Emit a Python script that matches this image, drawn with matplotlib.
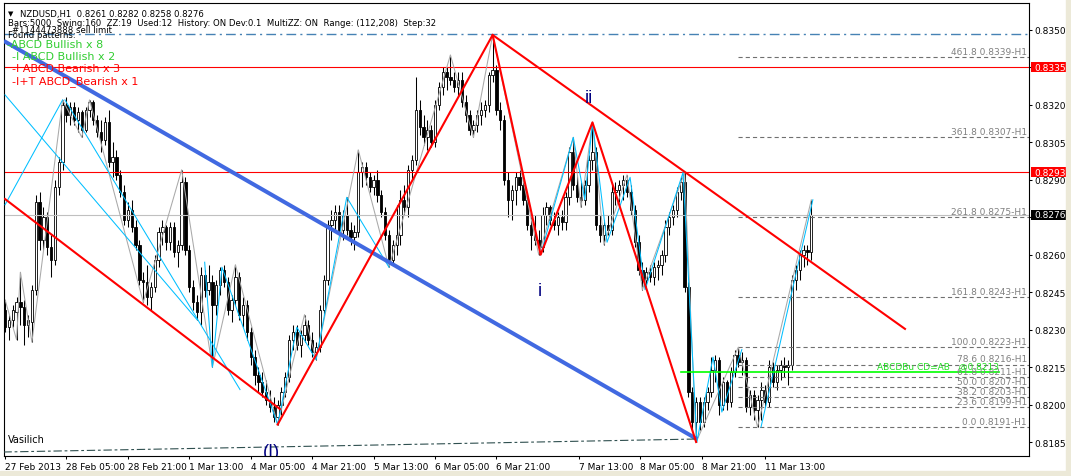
import matplotlib
matplotlib.use("Agg")
import matplotlib.pyplot as plt
import matplotlib.transforms as mtrans
from matplotlib.patches import Rectangle
import numpy as np

plt.rcParams['lines.scale_dashes'] = False
plt.rcParams['font.family'] = ['DejaVu Sans']

# ---------------- data (prices in pips, 8261 -> 0.8261) ----------------
symbol = "NZDUSD,H1"
opens = [8238,8231,8234,8237,8241,8239,8232,8233,8246,8281,
         8266,8275,8263,8258,8287,8297,8320,8316,8319,8314,
         8317,8310,8318,8321,8314,8309,8306,8313,8297,8299,
         8292,8285,8274,8278,8271,8264,8250,8249,8243,8247,
         8258,8269,8271,8265,8271,8261,8264,8289,8262,8247,
         8241,8237,8252,8246,8249,8240,8248,8254,8249,8238,
         8242,8251,8236,8240,8229,8219,8212,8209,8205,8202,
         8199,8195,8200,8205,8211,8226,8229,8224,8228,8232,
         8226,8221,8223,8238,8250,8272,8274,8277,8270,8276,
         8270,8267,8269,8293,8295,8291,8287,8290,8284,8277,
         8268,8258,8264,8268,8282,8279,8294,8298,8318,8311,
         8307,8310,8305,8320,8327,8333,8331,8330,8327,8330,
         8321,8316,8310,8312,8316,8318,8320,8332,8334,8318,
         8314,8290,8282,8286,8291,8288,8282,8272,8268,8266,
         8263,8276,8279,8274,8272,8275,8273,8283,8301,8288,
         8283,8282,8288,8298,8301,8272,8268,8272,8270,8285,
         8286,8288,8290,8285,8278,8265,8254,8250,8253,8251,
         8255,8256,8260,8271,8275,8278,8285,8289,8247,8205,
         8193,8201,8193,8201,8205,8214,8218,8200,8209,8201,
         8213,8220,8217,8218,8199,8204,8198,8202,8206,8201,
         8215,8209,8214,8216,8215,8216,8250,8254,8260,8262,8261]
highs = [8242,8236,8240,8243,8253,8242,8236,8248,8284,8285,
         8279,8277,8268,8290,8299,8322,8323,8321,8321,8319,
         8318,8319,8322,8322,8316,8314,8315,8318,8305,8302,
         8294,8288,8281,8282,8274,8266,8253,8256,8249,8260,
         8271,8274,8272,8273,8273,8266,8294,8291,8264,8250,
         8244,8255,8254,8256,8252,8250,8255,8256,8251,8244,
         8256,8253,8243,8242,8231,8222,8215,8213,8210,8206,
         8203,8202,8207,8213,8228,8232,8232,8230,8236,8234,
         8229,8225,8240,8252,8274,8278,8280,8280,8278,8283,
         8273,8272,8302,8297,8297,8293,8292,8294,8286,8279,
         8270,8266,8280,8286,8288,8296,8300,8331,8322,8316,
         8314,8312,8322,8329,8335,8335,8340,8333,8333,8333,
         8324,8318,8314,8318,8321,8322,8333,8348,8336,8321,
         8316,8293,8288,8293,8294,8290,8284,8275,8276,8270,
         8279,8281,8280,8277,8277,8278,8285,8303,8307,8292,
         8289,8290,8300,8313,8303,8276,8274,8276,8288,8289,
         8290,8292,8292,8288,8280,8268,8257,8255,8256,8257,
         8258,8262,8274,8277,8280,8287,8291,8293,8249,8207,
         8203,8203,8203,8207,8219,8220,8219,8211,8210,8215,
         8222,8223,8221,8219,8206,8206,8204,8209,8208,8218,
         8217,8216,8218,8219,8218,8252,8256,8262,8264,8264,8282]
lows = [8229,8226,8231,8226,8232,8224,8227,8225,8244,8262,
        8262,8260,8251,8256,8284,8294,8313,8312,8312,8309,
        8307,8309,8315,8312,8307,8301,8304,8295,8291,8290,
        8283,8272,8271,8269,8262,8248,8241,8240,8238,8245,
        8255,8264,8262,8262,8259,8255,8262,8260,8245,8238,
        8234,8232,8243,8244,8215,8236,8244,8247,8236,8233,
        8240,8234,8231,8226,8216,8208,8205,8203,8200,8197,
        8193,8192,8196,8203,8209,8222,8222,8219,8225,8224,
        8219,8218,8221,8236,8248,8266,8270,8268,8266,8268,
        8264,8262,8267,8287,8288,8285,8284,8281,8275,8266,
        8255,8256,8260,8264,8276,8275,8290,8296,8308,8304,
        8302,8303,8303,8318,8324,8326,8328,8325,8323,8319,
        8313,8308,8307,8309,8312,8315,8317,8329,8316,8310,
        8288,8275,8274,8280,8286,8280,8270,8262,8264,8260,
        8261,8272,8272,8270,8268,8270,8270,8280,8286,8281,
        8279,8280,8285,8294,8270,8265,8264,8268,8268,8280,
        8281,8282,8283,8276,8263,8252,8246,8247,8249,8248,
        8250,8252,8257,8268,8272,8275,8282,8245,8203,8190,
        8185,8190,8191,8198,8203,8209,8196,8198,8198,8199,
        8211,8215,8212,8197,8196,8194,8191,8194,8199,8199,
        8207,8206,8210,8211,8208,8214,8246,8250,8255,8256,8258]
closes = [8231,8234,8238,8241,8239,8232,8234,8246,8281,8266,
          8275,8263,8258,8287,8297,8320,8316,8319,8314,8317,
          8310,8318,8321,8314,8309,8306,8313,8297,8299,8292,
          8285,8274,8278,8271,8264,8250,8249,8243,8247,8258,
          8269,8271,8265,8271,8261,8264,8289,8262,8247,8241,
          8237,8252,8246,8249,8240,8248,8254,8249,8238,8242,
          8251,8236,8240,8229,8219,8212,8209,8205,8202,8199,
          8195,8200,8205,8211,8226,8229,8224,8228,8232,8226,
          8221,8223,8238,8250,8272,8274,8277,8270,8276,8270,
          8267,8269,8293,8295,8291,8287,8290,8284,8277,8268,
          8258,8264,8268,8282,8279,8294,8298,8318,8311,8307,
          8310,8305,8320,8327,8333,8331,8330,8327,8330,8321,
          8316,8310,8312,8316,8318,8320,8332,8334,8318,8314,
          8290,8282,8286,8291,8288,8282,8272,8268,8266,8263,
          8276,8279,8274,8272,8275,8273,8283,8301,8288,8283,
          8282,8288,8298,8301,8272,8268,8272,8270,8285,8286,
          8288,8290,8285,8278,8265,8254,8250,8253,8251,8255,
          8256,8260,8271,8275,8278,8285,8289,8247,8205,8193,
          8201,8193,8201,8205,8214,8218,8200,8209,8201,8213,
          8220,8217,8218,8199,8204,8198,8202,8206,8201,8215,
          8209,8214,8216,8215,8216,8250,8254,8260,8262,8261,8276]

time_tick_bars = [0, 16, 32, 48, 64, 80, 96, 112, 128, 149.5, 165.5, 181.5, 198]
time_tick_labels = ["27 Feb 2013", "28 Feb 05:00", "28 Feb 21:00", "1 Mar 13:00",
                    "4 Mar 05:00", "4 Mar 21:00", "5 Mar 13:00", "6 Mar 05:00",
                    "6 Mar 21:00", "7 Mar 13:00", "8 Mar 05:00", "8 Mar 21:00",
                    "11 Mar 13:00"]
price_ticks = [0.8185, 0.8200, 0.8215, 0.8230, 0.8245, 0.8260, 0.8275,
               0.8290, 0.8305, 0.8320, 0.8335, 0.8350]

fib_pcts = ["461.8", "361.8", "261.8", "161.8", "100.0", "78.6", "61.8",
            "50.0", "38.2", "23.6", "0.0"]
fib_prices = [0.8339, 0.8307, 0.8275, 0.8243, 0.8223, 0.8216, 0.8211,
              0.8207, 0.8203, 0.8199, 0.8191]
fib_start_bar = 191

red_levels = [0.8335, 0.8293]
bid_price = 0.8276
sell_limit_price = 0.83482
abcd_target = 0.8213
abcd_bars = [176, 259]

zz_bars = [0,3,4,7,15,20,22,36,46,54,60,71,78,81,92,100,116,122,127,139,148,150,153,156,162,166,177,180,191,196,210]
zz_pips = [8242,8226,8253,8225,8322,8307,8322,8241,8294,8215,8256,8192,8236,8218,8302,8255,8340,8307,8348,8260,8307,8279,8313,8264,8292,8246,8293,8185,8223,8191,8282]

cyan_lines = [
    ([0, 15], [8280, 8322]),
    ([0, 50], [8324, 8234]),
    ([15.6, 61.2], [8322, 8206]),
    ([52, 54, 56.5, 71, 76, 81, 89, 100], [8257, 8215, 8255, 8192, 8231, 8218, 8283, 8255]),
    ([139.5, 148, 151, 153, 156.8, 162.8, 166.7, 176.6, 180.2, 184.4, 186.7, 191.9],
     [8260, 8307, 8282, 8313, 8265, 8291, 8246, 8293, 8185, 8219, 8197, 8222]),
    ([196.9, 210.4], [8191, 8282]),
]
red_abcd_bars = [71, 127, 139.5, 153, 180]
red_abcd_pips = [8192, 8348, 8260, 8313, 8185]
red_channel_bars = [0, 71.6]
red_channel_pips = [8282.3, 8198.2]
red_trend_bars = [127, 234.4]
red_trend_pips = [8348, 8230.3]
blue_bars = [-0.3, 180.2]
blue_pips = [8345.6, 8186.2]
slate_bars = [-0.4, 180.2]
slate_pips = [8181.0, 8186.2]

legend_lines = [("-ABCD Bullish x 8", "#32CD32", 7, 48.5),
                ("-I ABCD Bullish x 2", "#32CD32", 12, 60.5),
                ("-I ABCD Bearish x 3", "#FF0000", 12, 72.5),
                ("-I+T ABCD_Bearish x 1", "#FF0000", 12, 84.5)]

# ---------------- figure ----------------
W, H, DPI = 1071, 477, 100
fig = plt.figure(figsize=(W / DPI, H / DPI), dpi=DPI, facecolor="white")
Lp, Rp, Tp, Bp = 3.5, 1029, 3.5, 457
ax = fig.add_axes([Lp / W, 1 - Bp / H, (Rp - Lp) / W, (Bp - Tp) / H])
ax.set_facecolor("white")
ax.set_xlim(-0.4, 266.7)
ax.set_ylim(0.81794, 0.83610)

for s in ax.spines.values():
    s.set_color("black")
    s.set_linewidth(0.8)

def fx(px):
    return px / W

def fy(py):
    return 1 - py / H

# window strips
fig.patches.append(Rectangle((0, 0), 1, 5 / H, transform=fig.transFigure, color="#ECE9D8", zorder=0))
fig.patches.append(Rectangle((1066 / W, 0), 5 / W, 1, transform=fig.transFigure, color="#ECE9D8", zorder=0))

# candles
o = np.array(opens) / 1e4
h = np.array(highs) / 1e4
l = np.array(lows) / 1e4
c = np.array(closes) / 1e4
idx = np.arange(len(o))
ax.vlines(idx, l, h, color="black", lw=0.75, zorder=2)
up = c >= o
bottoms = np.minimum(o, c)
heights = np.maximum(np.abs(c - o), 0.000025)
ax.bar(idx, heights, bottom=bottoms, width=0.6,
       color=np.where(up, "white", "black"), edgecolor="black", linewidth=0.6, zorder=2.1)

# horizontal lines
ax.axhline(sell_limit_price, color="#4682B4", lw=1.0, dashes=(7, 3, 1.5, 3), zorder=2.3)
for lv in red_levels:
    ax.axhline(lv, color="#FF0000", lw=0.8, zorder=2.3)
ax.axhline(bid_price, color="#C0C0C0", lw=0.8, zorder=2.2)

# fib levels
off = mtrans.offset_copy(ax.transData, fig=fig, y=1.5, units="dots")
for pct, pr in zip(fib_pcts, fib_prices):
    ax.plot([fib_start_bar, 266.7], [pr, pr], color="#707070", lw=0.8, dashes=(3, 2.2), zorder=2.3)
    ax.text(266.2, pr, f"{pct} {pr:.4f}-H1", transform=off, ha="right", va="bottom",
            fontsize=6.5, color="#808080", zorder=4)

# ABCD target line
ax.plot(abcd_bars, [abcd_target, abcd_target], color="#00FF00", lw=1.2, zorder=3)
ax.text(abcd_bars[1], abcd_target, f"ABCDBu CD=AB   @{abcd_target:.4f}", transform=off,
        ha="right", va="bottom", fontsize=6.5, color="#22DD22", zorder=4)

# zigzag
ax.plot(zz_bars, np.array(zz_pips) / 1e4, color="#A9A9A9", lw=0.75, zorder=2.5)
for xs, ys in cyan_lines:
    ax.plot(xs, np.array(ys) / 1e4, color="#00BFFF", lw=0.75, zorder=2.6)

# big pattern lines
ax.plot(blue_bars, np.array(blue_pips) / 1e4, color="#4169E1", lw=2.9, zorder=3, solid_capstyle="butt")
ax.plot(slate_bars, np.array(slate_pips) / 1e4, color="#2F4F4F", lw=0.8, dashes=(6, 2, 2, 2), zorder=3)
ax.plot(red_channel_bars, np.array(red_channel_pips) / 1e4, color="#FF0000", lw=1.5, zorder=3.1)
ax.plot(red_abcd_bars, np.array(red_abcd_pips) / 1e4, color="#FF0000", lw=1.5, zorder=3.1)
ax.plot(red_trend_bars, np.array(red_trend_pips) / 1e4, color="#FF0000", lw=1.5, zorder=3.1)

# wave labels
ax.text(152.1, 0.83212, "ii", color="#000080", fontsize=13, family="Liberation Sans",
        ha="center", va="baseline", zorder=4)
ax.text(139.3, 0.82439, "i", color="#000080", fontsize=13, family="Liberation Sans",
        ha="center", va="baseline", zorder=4)
ax.text(69.4, 0.81845, "(I)", color="#000080", fontsize=13, family="Liberation Sans",
        ha="center", va="top", zorder=4, clip_on=True)
fig.text(fx(8), fy(443), "Vasilich", fontsize=7, color="black", va="baseline")

# axes ticks (labels hidden under the price tags are left blank)
tagged = [red_levels[0], bid_price]
ax.yaxis.tick_right()
ax.set_yticks(price_ticks)
ax.set_yticklabels(["" if any(abs(p - t) < 0.00012 for t in tagged) else f"{p:.4f}"
                    for p in price_ticks])
ax.tick_params(axis="y", direction="out", length=2.2, width=0.75, pad=2, labelsize=6.5, colors="black")
ax.set_xticks(time_tick_bars)
ax.set_xticklabels(time_tick_labels)
for lbl in ax.get_xticklabels():
    lbl.set_ha("left")
ax.tick_params(axis="x", direction="out", length=2.5, width=0.75, pad=1.5, labelsize=6.5, colors="black")

# price tags on right
bt = mtrans.blended_transform_factory(fig.transFigure, ax.transData)
for pr, fc in [(red_levels[0], "#FF0000"), (red_levels[1], "#FF0000"), (bid_price, "black")]:
    ax.add_patch(Rectangle((1031 / W, pr - 0.0002), 37 / W, 0.0004, transform=bt,
                           facecolor=fc, edgecolor="none", clip_on=False, zorder=10))
    ax.text(1034 / W, pr, f"{pr:.4f}", transform=bt, color="white", fontsize=6.5,
            va="center", ha="left", clip_on=False, zorder=11)

# header texts
fig.text(fx(8), fy(16.5), "\u25BC", fontsize=5, color="black", va="baseline")
fig.text(fx(20), fy(16.5),
         f"{symbol}  {opens[-1]/1e4:.4f} {highs[-1]/1e4:.4f} {lows[-1]/1e4:.4f} {closes[-1]/1e4:.4f}",
         fontsize=6.1, color="black", va="baseline")
fig.text(fx(8), fy(26), "Bars:5000  Swing:160  ZZ:19  Used:12  History: ON Dev:0.1  MultiZZ: ON  Range: (112,208)  Step:32",
         fontsize=6.1, color="black", va="baseline")
fig.text(fx(12), fy(33.5), "#1144473888 sell limit", fontsize=6.1, color="black", va="baseline")
fig.text(fx(8), fy(38.5), "Found patterns:", fontsize=6.1, color="black", va="baseline")
for txt, col, xp, yp in legend_lines:
    fig.text(fx(xp), fy(yp), txt, fontsize=8, color=col, va="baseline")

fig.savefig("out.png", dpi=DPI, facecolor=fig.get_facecolor())
